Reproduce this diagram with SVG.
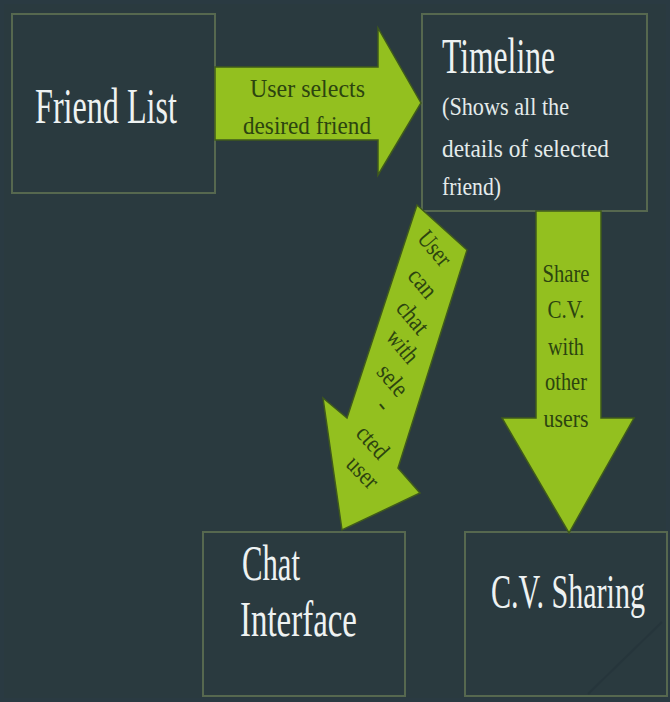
<svg xmlns="http://www.w3.org/2000/svg" width="670" height="702" viewBox="0 0 670 702">
  <style>
    .box { fill: #2a3a3f; stroke: #56684f; stroke-width: 2; }
    .arrow { fill: #93c01f; stroke: #3f5a1c; stroke-width: 1.5; stroke-linejoin: miter; }
    .big { font-family: "Liberation Serif", "Times New Roman", serif; fill: #eef2f2; }
    .small { font-family: "Liberation Serif", "Times New Roman", serif; fill: #e4ebeb; font-size: 26px; }
    .lbl { font-family: "Liberation Serif", "Times New Roman", serif; fill: #2c440f; font-size: 26px; }
    .dlbl { font-family: "Liberation Serif", "Times New Roman", serif; fill: #2c440f; font-size: 25px; text-anchor: middle; dominant-baseline: central; }
  </style>
  <rect x="0" y="0" width="670" height="702" fill="#2a3a42"/>
  <rect x="4" y="4" width="662" height="694" fill="#2a3a3f"/>

  <!-- nodes -->
  <g id="friend-list">
    <rect class="box" x="12" y="14" width="203" height="179"/>
    <text class="big" x="35" y="123" font-size="50" textLength="142" lengthAdjust="spacingAndGlyphs">Friend List</text>
  </g>

  <g id="timeline">
    <rect class="box" x="422" y="14" width="225" height="197"/>
    <text class="big" x="442" y="73" font-size="50" textLength="113" lengthAdjust="spacingAndGlyphs">Timeline</text>
    <text class="small" x="442" y="115" textLength="127" lengthAdjust="spacingAndGlyphs">(Shows all the</text>
    <text class="small" x="442" y="157" textLength="167" lengthAdjust="spacingAndGlyphs">details of selected</text>
    <text class="small" x="442" y="195" textLength="59" lengthAdjust="spacingAndGlyphs">friend)</text>
  </g>

  <g id="chat-interface">
    <rect class="box" x="203" y="532" width="202" height="164"/>
    <text class="big" x="242" y="580" font-size="50" textLength="58" lengthAdjust="spacingAndGlyphs">Chat</text>
    <text class="big" x="240" y="636" font-size="50" textLength="117" lengthAdjust="spacingAndGlyphs">Interface</text>
  </g>

  <g id="cv-sharing">
    <rect class="box" x="465" y="532" width="202" height="164"/>
    <line x1="588" y1="694" x2="662" y2="622" stroke="#24333a" stroke-width="2" opacity="0.6"/>
    <!-- condensed by a horizontal scale so the title stays inside the box -->
    <text class="big" transform="translate(491,608) scale(0.627,1)" font-size="48">C.V. Sharing</text>
  </g>

  <!-- connectors -->
  <g id="connectors">
    <g id="select-friend">
      <polygon class="arrow" points="215,67 378,67 378,28 421,103 378,175 378,140 215,140"/>
      <text class="lbl" x="250" y="97" textLength="115" lengthAdjust="spacingAndGlyphs">User selects</text>
      <text class="lbl" x="243" y="134" textLength="128" lengthAdjust="spacingAndGlyphs">desired friend</text>
    </g>

    <g id="share-cv">
      <polygon class="arrow" points="536,211 601,211 601,418 634,418 569,533 502,418 536,418"/>
      <text class="lbl" x="566" y="282" text-anchor="middle" textLength="47" lengthAdjust="spacingAndGlyphs">Share</text>
      <text class="lbl" x="566" y="318" text-anchor="middle" textLength="37" lengthAdjust="spacingAndGlyphs">C.V.</text>
      <text class="lbl" x="566" y="355" text-anchor="middle" textLength="36" lengthAdjust="spacingAndGlyphs">with</text>
      <text class="lbl" x="566" y="390" text-anchor="middle" textLength="42" lengthAdjust="spacingAndGlyphs">other</text>
      <text class="lbl" x="566" y="427" text-anchor="middle" textLength="45" lengthAdjust="spacingAndGlyphs">users</text>
    </g>

    <g id="chat-user">
      <polygon class="arrow" points="417,205 467,250 398,468 420,493 342,530 323,398 347,418"/>
      <text class="dlbl" transform="translate(435,248) rotate(50)" textLength="38" lengthAdjust="spacingAndGlyphs">User</text>
      <text class="dlbl" transform="translate(423,283) rotate(50)" textLength="31" lengthAdjust="spacingAndGlyphs">can</text>
      <text class="dlbl" transform="translate(413,317) rotate(50)" textLength="36" lengthAdjust="spacingAndGlyphs">chat</text>
      <text class="dlbl" transform="translate(403,346) rotate(50)" textLength="36" lengthAdjust="spacingAndGlyphs">with</text>
      <text class="dlbl" transform="translate(393,380) rotate(50)" textLength="34" lengthAdjust="spacingAndGlyphs">sele</text>
      <text class="dlbl" transform="translate(384,405) rotate(50)">-</text>
      <text class="dlbl" transform="translate(373,442) rotate(48)" textLength="36" lengthAdjust="spacingAndGlyphs">cted</text>
      <text class="dlbl" transform="translate(363,472) rotate(46)" textLength="35" lengthAdjust="spacingAndGlyphs">user</text>
    </g>
  </g>
</svg>
